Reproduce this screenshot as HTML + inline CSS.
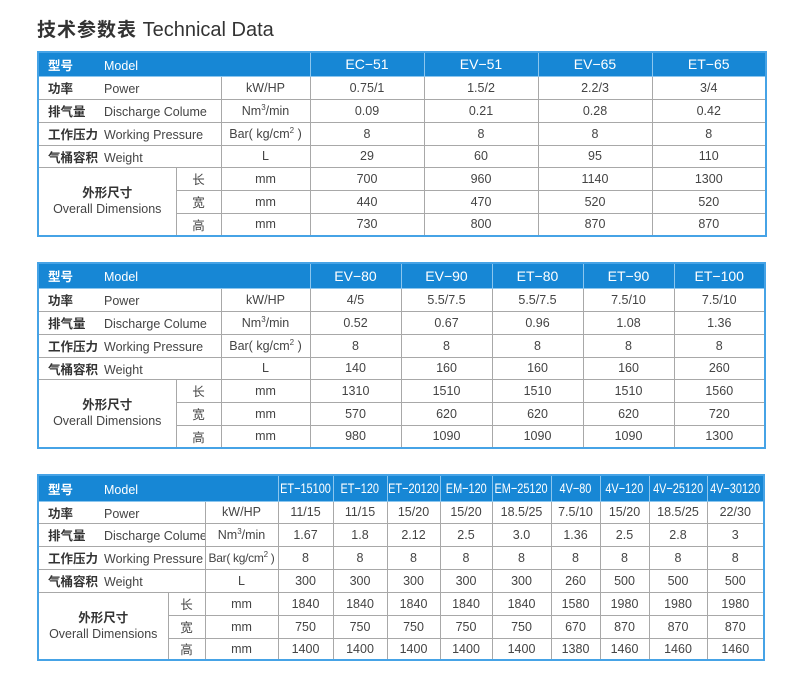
<!DOCTYPE html>
<html><head><meta charset="utf-8"><style>
body{margin:0;width:800px;height:687px;background:#fff;position:relative;overflow:hidden;font-family:"Liberation Sans","Noto Sans CJK SC",sans-serif;color:#444}
.title{position:absolute;left:37px;top:15px;font-size:20px;color:#333;white-space:nowrap}
.title b{font-size:19px;font-weight:bold;letter-spacing:1px}
table{position:absolute;border-collapse:collapse;table-layout:fixed;border:2px solid #46a3e6}
td{border:1px solid #a8a8a8;font-size:12.5px;text-align:center;padding:0;white-space:nowrap;overflow:hidden;color:#444}
tr.h td{background:#1787d5;color:#fff;font-size:14px;border-color:#8cc6ee}
tr.h td.l{font-size:12.5px}
.t3 tr.h td i{font-style:normal;display:inline-block;font-size:14px;transform:scaleX(0.78);margin:0 -12px}
td.l{text-align:left;padding-left:9px}
td.l b{display:inline-block;width:56px;font-size:12.5px;color:#333}
tr.h td.l b{color:#fff}
.dim{line-height:16px;font-size:12.5px}
.dim b{color:#333}
sup{font-size:8px;vertical-align:5px;line-height:0}
</style></head><body>
<div class="title"><b>技术参数表</b> Technical Data</div>

<table style="left:37px;top:51px;width:728px">
<colgroup><col style="width:138px"><col style="width:45px"><col style="width:89px"><col style="width:114px"><col style="width:114px"><col style="width:114px"><col style="width:114px"></colgroup>
<tr class="h" style="height:24px"><td class="l" colspan="3"><b>型号</b>Model</td><td>EC−51</td><td>EV−51</td><td>EV−65</td><td>ET−65</td></tr>
<tr style="height:23px"><td class="l" colspan="2"><b>功率</b>Power</td><td>kW/HP</td><td>0.75/1</td><td>1.5/2</td><td>2.2/3</td><td>3/4</td></tr>
<tr style="height:23px"><td class="l" colspan="2"><b>排气量</b>Discharge Colume</td><td>Nm<sup>3</sup>/min</td><td>0.09</td><td>0.21</td><td>0.28</td><td>0.42</td></tr>
<tr style="height:23px"><td class="l" colspan="2"><b>工作压力</b>Working Pressure</td><td>Bar( kg/cm<sup>2</sup> )</td><td>8</td><td>8</td><td>8</td><td>8</td></tr>
<tr style="height:22px"><td class="l" colspan="2"><b>气桶容积</b>Weight</td><td>L</td><td>29</td><td>60</td><td>95</td><td>110</td></tr>
<tr style="height:23px"><td rowspan="3" class="dim"><b>外形尺寸</b><br>Overall Dimensions</td><td>长</td><td>mm</td><td>700</td><td>960</td><td>1140</td><td>1300</td></tr>
<tr style="height:23px"><td>宽</td><td>mm</td><td>440</td><td>470</td><td>520</td><td>520</td></tr>
<tr style="height:23px"><td>高</td><td>mm</td><td>730</td><td>800</td><td>870</td><td>870</td></tr>
</table>

<table style="left:37px;top:262px;width:728px">
<colgroup><col style="width:138px"><col style="width:45px"><col style="width:89px"><col style="width:91px"><col style="width:91px"><col style="width:91px"><col style="width:91px"><col style="width:91px"></colgroup>
<tr class="h" style="height:25px"><td class="l" colspan="3"><b>型号</b>Model</td><td>EV−80</td><td>EV−90</td><td>ET−80</td><td>ET−90</td><td>ET−100</td></tr>
<tr style="height:23px"><td class="l" colspan="2"><b>功率</b>Power</td><td>kW/HP</td><td>4/5</td><td>5.5/7.5</td><td>5.5/7.5</td><td>7.5/10</td><td>7.5/10</td></tr>
<tr style="height:23px"><td class="l" colspan="2"><b>排气量</b>Discharge Colume</td><td>Nm<sup>3</sup>/min</td><td>0.52</td><td>0.67</td><td>0.96</td><td>1.08</td><td>1.36</td></tr>
<tr style="height:23px"><td class="l" colspan="2"><b>工作压力</b>Working Pressure</td><td>Bar( kg/cm<sup>2</sup> )</td><td>8</td><td>8</td><td>8</td><td>8</td><td>8</td></tr>
<tr style="height:22px"><td class="l" colspan="2"><b>气桶容积</b>Weight</td><td>L</td><td>140</td><td>160</td><td>160</td><td>160</td><td>260</td></tr>
<tr style="height:23px"><td rowspan="3" class="dim"><b>外形尺寸</b><br>Overall Dimensions</td><td>长</td><td>mm</td><td>1310</td><td>1510</td><td>1510</td><td>1510</td><td>1560</td></tr>
<tr style="height:23px"><td>宽</td><td>mm</td><td>570</td><td>620</td><td>620</td><td>620</td><td>720</td></tr>
<tr style="height:23px"><td>高</td><td>mm</td><td>980</td><td>1090</td><td>1090</td><td>1090</td><td>1300</td></tr>
</table>

<table class="t3" style="left:37px;top:474px;width:727px">
<colgroup><col style="width:130px"><col style="width:37px"><col style="width:73px"><col style="width:55px"><col style="width:54px"><col style="width:53px"><col style="width:52px"><col style="width:59px"><col style="width:49px"><col style="width:49px"><col style="width:58px"><col style="width:57px"></colgroup>
<tr class="h" style="height:26px"><td class="l" colspan="3"><b>型号</b>Model</td><td><i>ET−15100</i></td><td><i>ET−120</i></td><td><i>ET−20120</i></td><td><i>EM−120</i></td><td><i>EM−25120</i></td><td><i>4V−80</i></td><td><i>4V−120</i></td><td><i>4V−25120</i></td><td><i>4V−30120</i></td></tr>
<tr style="height:22px"><td class="l" colspan="2"><b>功率</b>Power</td><td>kW/HP</td><td>11/15</td><td>11/15</td><td>15/20</td><td>15/20</td><td>18.5/25</td><td>7.5/10</td><td>15/20</td><td>18.5/25</td><td>22/30</td></tr>
<tr style="height:23px"><td class="l" colspan="2"><b>排气量</b>Discharge Colume</td><td>Nm<sup>3</sup>/min</td><td>1.67</td><td>1.8</td><td>2.12</td><td>2.5</td><td>3.0</td><td>1.36</td><td>2.5</td><td>2.8</td><td>3</td></tr>
<tr style="height:23px"><td class="l" colspan="2"><b>工作压力</b>Working Pressure</td><td style="font-size:12px;letter-spacing:-0.3px">Bar( kg/cm<sup>2</sup> )</td><td>8</td><td>8</td><td>8</td><td>8</td><td>8</td><td>8</td><td>8</td><td>8</td><td>8</td></tr>
<tr style="height:23px"><td class="l" colspan="2"><b>气桶容积</b>Weight</td><td>L</td><td>300</td><td>300</td><td>300</td><td>300</td><td>300</td><td>260</td><td>500</td><td>500</td><td>500</td></tr>
<tr style="height:23px"><td rowspan="3" class="dim"><b>外形尺寸</b><br>Overall Dimensions</td><td>长</td><td>mm</td><td>1840</td><td>1840</td><td>1840</td><td>1840</td><td>1840</td><td>1580</td><td>1980</td><td>1980</td><td>1980</td></tr>
<tr style="height:23px"><td>宽</td><td>mm</td><td>750</td><td>750</td><td>750</td><td>750</td><td>750</td><td>670</td><td>870</td><td>870</td><td>870</td></tr>
<tr style="height:22px"><td>高</td><td>mm</td><td>1400</td><td>1400</td><td>1400</td><td>1400</td><td>1400</td><td>1380</td><td>1460</td><td>1460</td><td>1460</td></tr>
</table>
</body></html>
